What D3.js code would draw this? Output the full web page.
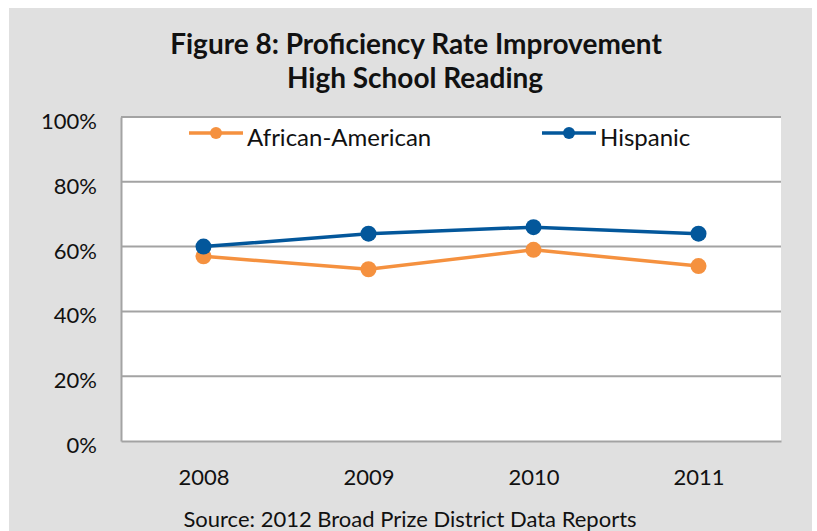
<!DOCTYPE html>
<html>
<head>
<meta charset="utf-8">
<script src="https://cdn.jsdelivr.net/npm/d3@7"></script>
<style>
  body { margin: 0; background: #fff; }
  svg { display: block; }
  text { fill: #111; }
</style>
</head>
<body>
<div id="chart"></div>
<script>
// chart data
var years = ["2008", "2009", "2010", "2011"];
var africanAmerican = [57, 53, 59, 54];
var hispanic = [60, 64, 66, 64];
var yTicks = [0, 20, 40, 60, 80, 100];
var seriesNames = ["African-American", "Hispanic"];
var seriesColors = ["#f5913f", "#03579b"];

var W = 817, H = 531;
var margin = {top: 117, right: 36, bottom: 90, left: 121};
var width = W - margin.left - margin.right,
    height = H - margin.top - margin.bottom;

var svg = d3.select("#chart").append("svg")
  .attr("width", W)
  .attr("height", H);

// gray panel behind the chart
svg.append("rect")
  .attr("x", 9).attr("y", 8)
  .attr("width", 803).attr("height", H - 8)
  .attr("fill", "#e0e0e0");

// title
var title = svg.append("text")
  .attr("text-anchor", "middle")
  .attr("font-family", "Lato, sans-serif")
  .attr("font-weight", "bold")
  .attr("font-size", 28);
title.append("tspan").attr("x", 416).attr("y", 54).text("Figure 8: Proficiency Rate Improvement");
title.append("tspan").attr("x", 415).attr("y", 88).text("High School Reading");

var g = svg.append("g")
  .attr("transform", "translate(" + margin.left + "," + margin.top + ")");

// plot area
g.append("rect")
  .attr("width", width).attr("height", height)
  .attr("fill", "#fff");

var x = d3.scalePoint().domain(years).range([0, width]).padding(0.5);
var y = d3.scaleLinear().domain([0, 100]).range([height, 0]);

// gridlines
g.selectAll(".grid")
  .data(yTicks.filter(function(d) { return d > 0; }))
  .enter().append("line")
  .attr("class", "grid")
  .attr("x1", 0).attr("x2", width)
  .attr("y1", function(d) { return y(d); })
  .attr("y2", function(d) { return y(d); })
  .attr("stroke", "#a3a3a3")
  .attr("stroke-width", 2);

// axes
var yAxis = d3.axisLeft(y).tickValues(yTicks).tickSize(0).tickPadding(24)
  .tickFormat(function(d) { return d + "%"; });
var xAxis = d3.axisBottom(x).tickSize(0).tickPadding(24);

var yG = g.append("g").call(yAxis);
var xG = g.append("g").attr("transform", "translate(0," + height + ")").call(xAxis);

[yG, xG].forEach(function(a) {
  a.select(".domain").attr("stroke", "#a3a3a3").attr("stroke-width", 2);
  a.selectAll("text")
    .attr("font-family", "Lato, sans-serif")
    .attr("font-size", 22)
    .attr("fill", "#111");
});
yG.selectAll("text").attr("dy", "0.52em");
xG.selectAll("text").attr("dy", "0.9em");

// series lines
var series = [africanAmerican, hispanic];
var line = d3.line()
  .x(function(d, i) { return x(years[i]); })
  .y(function(d) { return y(d); });

series.forEach(function(vals, s) {
  g.append("path")
    .datum(vals)
    .attr("d", line)
    .attr("fill", "none")
    .attr("stroke", seriesColors[s])
    .attr("stroke-width", 3.5);
  g.selectAll(".pt" + s)
    .data(vals)
    .enter().append("circle")
    .attr("class", "pt" + s)
    .attr("cx", function(d, i) { return x(years[i]); })
    .attr("cy", function(d) { return y(d); })
    .attr("r", 8)
    .attr("fill", seriesColors[s]);
});

// legend
var legendX = [68, 421];
seriesNames.forEach(function(name, s) {
  var lg = g.append("g").attr("transform", "translate(" + legendX[s] + ",16)");
  lg.append("line")
    .attr("x1", 0).attr("x2", 54)
    .attr("stroke", seriesColors[s]).attr("stroke-width", 3.5);
  lg.append("circle").attr("cx", 27).attr("r", 6).attr("fill", seriesColors[s]);
  lg.append("text")
    .attr("x", 58).attr("dy", "0.55em")
    .attr("font-family", "Lato, sans-serif")
    .attr("font-size", 24)
    .text(name);
});

// source note
svg.append("text")
  .attr("x", 410).attr("y", 527)
  .attr("text-anchor", "middle")
  .attr("font-family", "Lato, sans-serif")
  .attr("font-size", 22)
  .text("Source: 2012 Broad Prize District Data Reports");
</script>
</body>
</html>
